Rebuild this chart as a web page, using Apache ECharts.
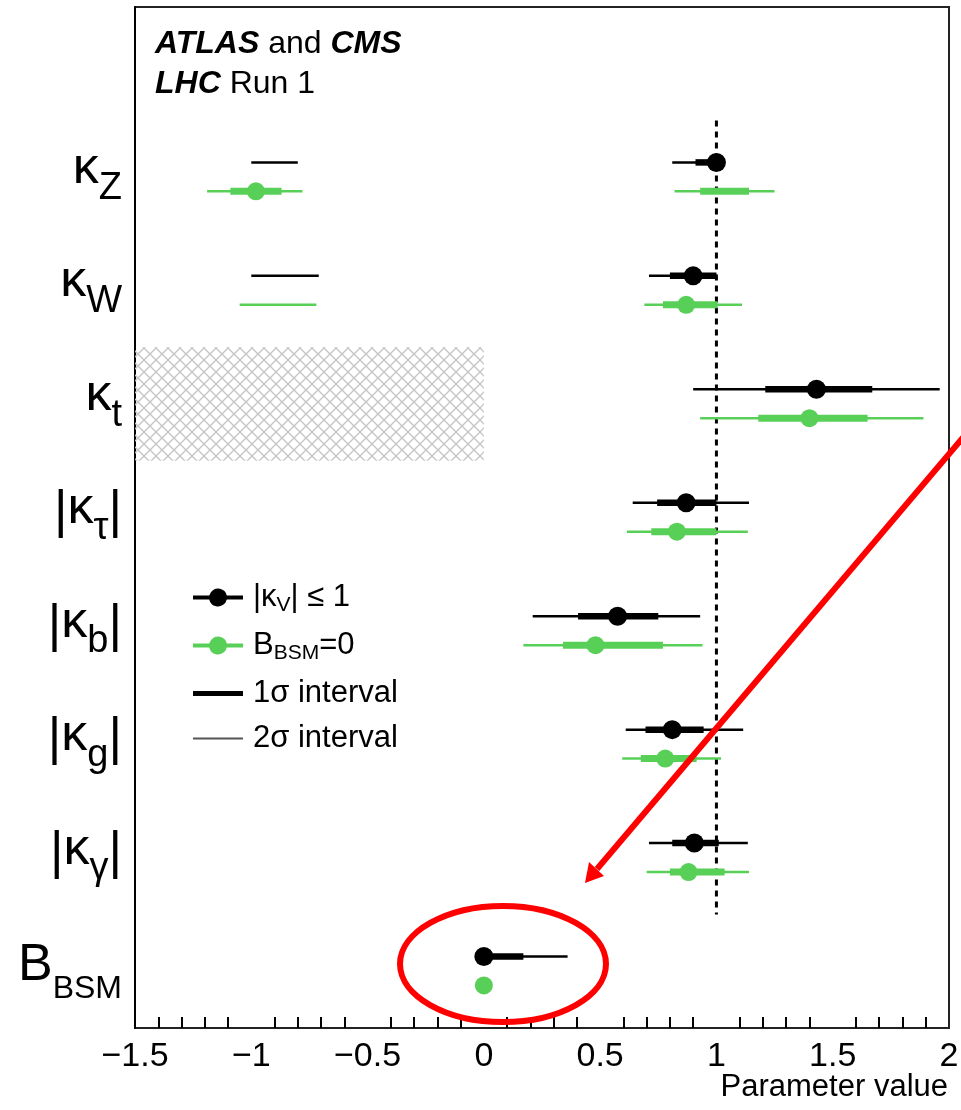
<!DOCTYPE html>
<html>
<head>
<meta charset="utf-8">
<script src="https://cdn.jsdelivr.net/npm/echarts@6/dist/echarts.min.js"></script>
<style>
html, body { margin: 0; padding: 0; background: #fff; }
#chart { width: 961px; height: 1110px; }
</style>
</head>
<body>
<div id="chart"></div>
<script>
// rows, top to bottom; the empty first row only holds the ATLAS/CMS header
const params = ['', 'kZ', 'kW', 'kt', 'ktau', 'kb', 'kg', 'kgam', 'BBSM'];
const paramLabels = {
    '': '',
    kZ: '{k|κ}{s|Z}',
    kW: '{k|κ}{s|W}',
    kt: '{k|κ}{s|t}',
    ktau: '{b||}{k|κ}{s|τ}{b||}',
    kb: '{b||}{k|κ}{s|b}{b||}',
    kg: '{b||}{k|κ}{s|g}{b||}',
    kgam: '{b||}{k|κ}{s|γ}{b||}',
    BBSM: '{B|B}{S|BSM}'
};

// |kV| <= 1 fit (black)
const kvBest = [['kZ', 1.00], ['kW', 0.90], ['kt', 1.43], ['ktau', 0.87], ['kb', 0.575], ['kg', 0.81], ['kgam', 0.905], ['BBSM', 0.0]];
const kv1sigma = [['kZ', 0.91, 1.00], ['kW', 0.80, 1.00], ['kt', 1.21, 1.67], ['ktau', 0.745, 1.00],
    ['kb', 0.405, 0.75], ['kg', 0.695, 0.945], ['kgam', 0.81, 1.01], ['BBSM', 0.0, 0.17]];
const kv2sigma = [['kZ', -1.00, -0.80], ['kZ', 0.81, 1.00], ['kW', -1.00, -0.71], ['kW', 0.71, 1.00],
    ['kt', 0.90, 1.96], ['ktau', 0.64, 1.14], ['kb', 0.21, 0.93], ['kg', 0.61, 1.115], ['kgam', 0.71, 1.135], ['BBSM', 0.0, 0.36]];

// B_BSM = 0 fit (green)
const bsmBest = [['kZ', -0.98], ['kW', 0.87], ['kt', 1.40], ['ktau', 0.83], ['kb', 0.48], ['kg', 0.78], ['kgam', 0.88], ['BBSM', 0.0]];
const bsm1sigma = [['kZ', -1.09, -0.87], ['kZ', 0.93, 1.14], ['kW', 0.77, 1.005], ['kt', 1.18, 1.65], ['ktau', 0.72, 1.00],
    ['kb', 0.34, 0.77], ['kg', 0.675, 0.915], ['kgam', 0.80, 1.035]];
const bsm2sigma = [['kZ', -1.19, -0.78], ['kZ', 0.82, 1.25], ['kW', -1.05, -0.72], ['kW', 0.69, 1.11], ['kt', 0.93, 1.89],
    ['ktau', 0.615, 1.135], ['kb', 0.17, 0.94], ['kg', 0.595, 1.02], ['kgam', 0.70, 1.14]];

// SM expectation line and the kappa_t region not probed
const smLine = [[1.0, 'kZ', 'kgam']];
const excluded = [['kt', -1.5, 0]];

const xMin = -1.5, xMax = 2, xStep = 0.5;

const FONT = 'Liberation Sans, Arial, Helvetica, sans-serif';
const GREEN = '#58d058';
const BLACK_SHIFT = -0.13, GREEN_SHIFT = 0.125;

const rowOf = key => params.indexOf(key);

// crosshatch tile
const hatch = document.createElement('canvas');
hatch.width = 12; hatch.height = 12;
(function () {
    const c = hatch.getContext('2d');
    c.strokeStyle = '#c4c4c4';
    c.lineWidth = 1.3;
    c.beginPath();
    c.moveTo(-1, -1); c.lineTo(13, 13);
    c.moveTo(13, -1); c.lineTo(-1, 13);
    c.stroke();
})();

function segmentRenderer(shift, width, color) {
    return function (p, api) {
        const row = api.value(2);
        const dy = api.size([0, 1])[1] * shift;
        const a = api.coord([api.value(0), row]);
        const b = api.coord([api.value(1), row]);
        return {
            type: 'line',
            shape: { x1: a[0], y1: a[1] + dy, x2: b[0], y2: b[1] + dy },
            style: { stroke: color, lineWidth: width, lineCap: 'butt' }
        };
    };
}

function dotRenderer(shift, r, color) {
    return function (p, api) {
        const c = api.coord([api.value(0), api.value(1)]);
        const dy = api.size([0, 1])[1] * shift;
        return { type: 'circle', shape: { cx: c[0], cy: c[1] + dy, r: r }, style: { fill: color } };
    };
}

const segData = arr => arr.map(d => [d[1], d[2], rowOf(d[0])]);
const dotData = arr => arr.map(d => [d[1], rowOf(d[0])]);

const dotIcon = 'path://M0,7H16.225A9,9,0,0,1,33.775,7H50V11H33.775A9,9,0,0,1,16.225,11H0Z';

const legendNames = {
    kv: '{n||κ}{ls|V}{n|| ≤ 1}',
    bsm: '{n|B}{ls|BSM}{n|=0}',
    '1σ interval': '{n|1σ interval}',
    '2σ interval': '{n|2σ interval}'
};

const chart = echarts.init(document.getElementById('chart'), null, { renderer: 'canvas' });

const option = {
    animation: false,
    backgroundColor: '#fff',
    textStyle: { fontFamily: FONT },
    title: [
        {
            left: 155,
            top: 24,
            padding: 0,
            text: '{bi|ATLAS}{r| and }{bi|CMS}\n{bi|LHC}{r| Run 1}',
            textStyle: {
                rich: {
                    bi: { fontSize: 32, fontWeight: 'bold', fontStyle: 'italic', fontFamily: FONT, color: '#000', lineHeight: 40 },
                    r: { fontSize: 32, fontWeight: 'normal', fontFamily: FONT, color: '#000', lineHeight: 40 }
                }
            }
        },
        {
            // x-axis title, right aligned under the axis end
            right: 13,
            top: 1072,
            padding: 0,
            text: 'Parameter value',
            textStyle: { fontSize: 31, fontWeight: 'normal', fontFamily: FONT, color: '#000' }
        }
    ],
    legend: {
        orient: 'vertical',
        left: 193,
        top: 582,
        padding: 0,
        itemWidth: 50,
        itemHeight: 18,
        itemGap: 14,
        selectedMode: false,
        formatter: name => legendNames[name],
        textStyle: {
            color: '#000',
            padding: [0, 0, 0, 5],
            rich: {
                n: { fontSize: 31, fontFamily: FONT, color: '#000', lineHeight: 34 },
                ls: { fontSize: 21, fontFamily: FONT, color: '#000', padding: [16, 0, 0, 0] }
            }
        },
        data: [
            { name: 'kv', icon: dotIcon },
            { name: 'bsm', icon: dotIcon },
            { name: '1σ interval', icon: 'path://M0,0H50V5H0Z' },
            { name: '2σ interval', icon: 'path://M0,0H50V2H0Z' }
        ]
    },
    grid: {
        left: 135,
        right: 12,
        top: 7,
        bottom: 82,
        containLabel: false,
        outerBoundsMode: 'none',
        show: true,
        borderColor: '#222',
        borderWidth: 2
    },
    xAxis: {
        type: 'value',
        min: xMin,
        max: xMax,
        interval: xStep,
        axisLine: { lineStyle: { color: '#000', width: 2 } },
        axisTick: { inside: true, length: 23, lineStyle: { color: '#000', width: 2 } },
        minorTick: { show: true, splitNumber: 5, length: 11, lineStyle: { color: '#000', width: 2 } },
        splitLine: { show: false },
        axisLabel: {
            margin: 12,
            fontSize: 34,
            fontFamily: FONT,
            color: '#000',
            formatter: v => (v < 0 ? '\u2212' + Math.abs(v) : String(v))
        }
    },
    yAxis: {
        type: 'category',
        data: params,
        inverse: true,
        boundaryGap: true,
        axisLine: { onZero: false, lineStyle: { color: '#000', width: 2 } },
        axisTick: { inside: true, length: 30, lineStyle: { color: '#000', width: 2 } },
        splitLine: { show: false },
        axisLabel: {
            interval: 0,
            margin: 13,
            color: '#000',
            formatter: v => paramLabels[v],
            rich: {
                k: { fontSize: 52, fontFamily: FONT, color: '#000', padding: [0, 0, 17, 0] },
                s: { fontSize: 38, fontFamily: FONT, color: '#000', padding: [22, 0, 0, 0] },
                b: { fontSize: 52, fontFamily: FONT, color: '#000', padding: [0, 0, 9, 0] },
                B: { fontSize: 52, fontFamily: FONT, color: '#000', padding: [0, 0, 11, 0] },
                S: { fontSize: 32, fontFamily: FONT, color: '#000', padding: [35, 0, 0, 0] }
            }
        }
    },
    graphic: [
        {
            type: 'ellipse', z: 100,
            shape: { cx: 503, cy: 964, rx: 103, ry: 58 },
            style: { fill: 'none', stroke: '#ff0000', lineWidth: 6 }
        },
        {
            type: 'line', z: 100,
            shape: { x1: 966, y1: 434, x2: 597, y2: 869 },
            style: { stroke: '#ff0000', lineWidth: 6 }
        },
        {
            type: 'polygon', z: 100,
            shape: { points: [[585, 883], [589, 862], [604, 876]] },
            style: { fill: '#ff0000' }
        }
    ],
    series: [
        {
            type: 'custom', name: 'excluded', silent: true,
            encode: { x: [0, 1], y: 2 },
            data: segData(excluded),
            renderItem: function (p, api) {
                const row = api.value(2);
                const h = api.size([0, 1])[1];
                const a = api.coord([api.value(0), row]);
                const b = api.coord([api.value(1), row]);
                return {
                    type: 'rect',
                    shape: { x: a[0], y: a[1] - h / 2, width: b[0] - a[0], height: h },
                    style: { fill: { image: hatch, repeat: 'repeat' } }
                };
            }
        },
        {
            type: 'custom', name: 'sm', silent: true,
            encode: { x: 0, y: [1, 2] },
            data: smLine.map(d => [d[0], rowOf(d[1]), rowOf(d[2])]),
            renderItem: function (p, api) {
                const h = api.size([0, 1])[1];
                const a = api.coord([api.value(0), api.value(1)]);
                const b = api.coord([api.value(0), api.value(2)]);
                return {
                    type: 'line',
                    shape: { x1: a[0], y1: a[1] - h / 2, x2: b[0], y2: b[1] + h / 2 },
                    style: { stroke: '#000', lineWidth: 3, lineDash: [6, 5] }
                };
            }
        },
        {
            type: 'custom', name: 'kv2s', itemStyle: { color: '#000' },
            encode: { x: [0, 1], y: 2 },
            data: segData(kv2sigma),
            renderItem: segmentRenderer(BLACK_SHIFT, 2.5, '#000')
        },
        {
            type: 'custom', name: 'bsm2s', itemStyle: { color: GREEN },
            encode: { x: [0, 1], y: 2 },
            data: segData(bsm2sigma),
            renderItem: segmentRenderer(GREEN_SHIFT, 2.5, GREEN)
        },
        {
            type: 'custom', name: 'kv1s', itemStyle: { color: '#000' },
            encode: { x: [0, 1], y: 2 },
            data: segData(kv1sigma),
            renderItem: segmentRenderer(BLACK_SHIFT, 6.5, '#000')
        },
        {
            type: 'custom', name: 'bsm1s', itemStyle: { color: GREEN },
            encode: { x: [0, 1], y: 2 },
            data: segData(bsm1sigma),
            renderItem: segmentRenderer(GREEN_SHIFT, 7, GREEN)
        },
        {
            type: 'custom', name: 'kv', itemStyle: { color: '#000' },
            encode: { x: 0, y: 1 },
            data: dotData(kvBest),
            renderItem: dotRenderer(BLACK_SHIFT, 9.5, '#000')
        },
        {
            type: 'custom', name: 'bsm', itemStyle: { color: GREEN },
            encode: { x: 0, y: 1 },
            data: dotData(bsmBest),
            renderItem: dotRenderer(GREEN_SHIFT, 9, GREEN)
        },
        {
            type: 'custom', name: '1σ interval', itemStyle: { color: '#000' },
            data: [], renderItem: () => null
        },
        {
            type: 'custom', name: '2σ interval', itemStyle: { color: '#555' },
            data: [], renderItem: () => null
        }
    ]
};

chart.setOption(option);
</script>
</body>
</html>
